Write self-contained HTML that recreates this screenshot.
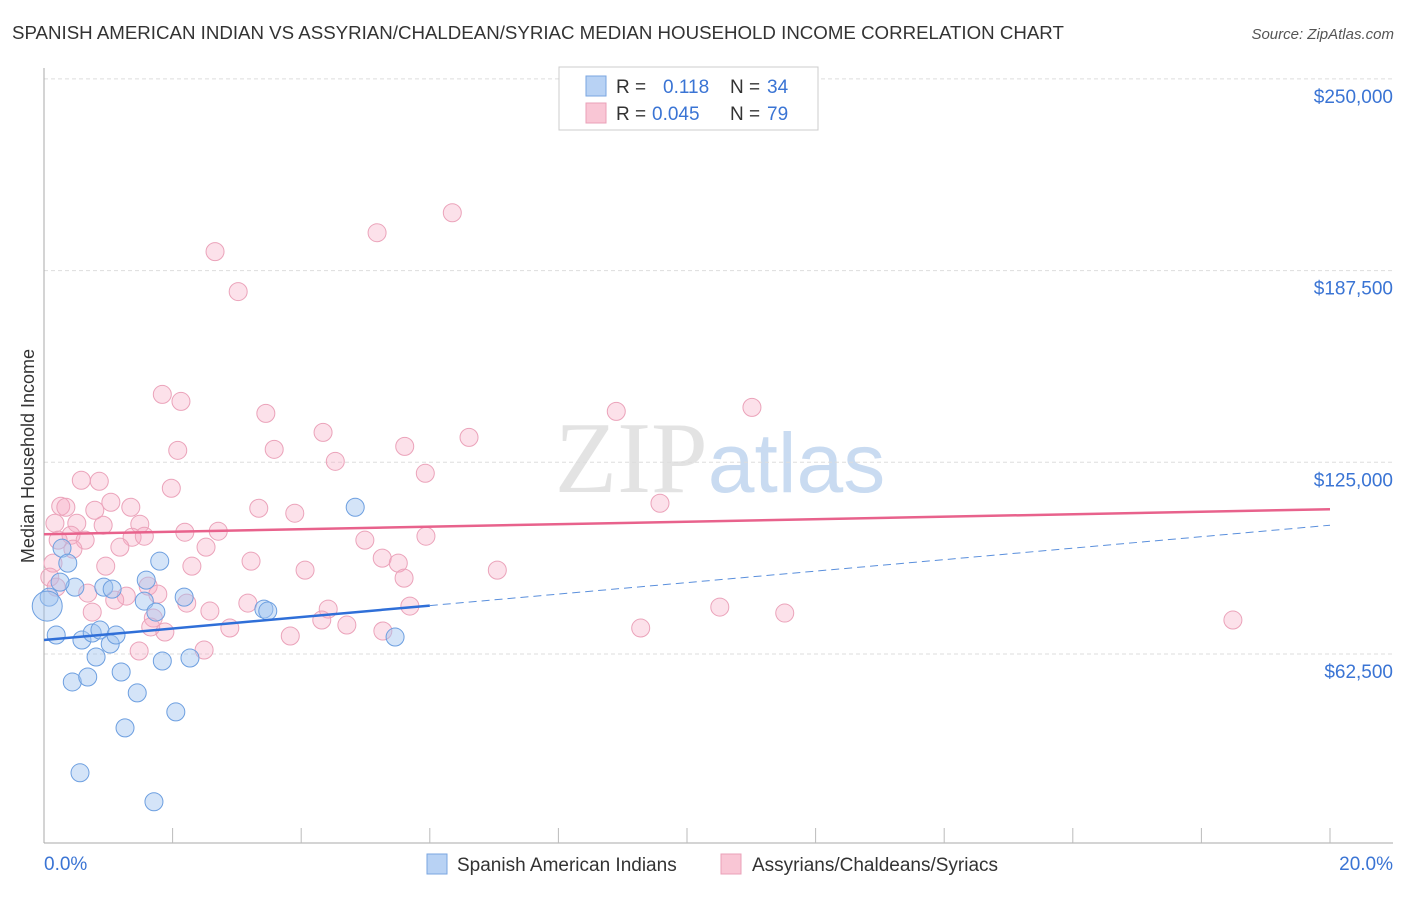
<!DOCTYPE html>
<html><head><meta charset="utf-8"><style>
body{margin:0;background:#fff;font-family:"Liberation Sans",sans-serif;}
</style></head><body>
<svg id="chart" width="1406" height="892" xmlns="http://www.w3.org/2000/svg" font-family="Liberation Sans, sans-serif">
<text x="12" y="39" font-size="18.7" fill="#333">SPANISH AMERICAN INDIAN VS ASSYRIAN/CHALDEAN/SYRIAC MEDIAN HOUSEHOLD INCOME CORRELATION CHART</text>
<text x="1394" y="39" font-size="15" fill="#555" text-anchor="end" font-style="italic">Source: ZipAtlas.com</text>
<text x="720" y="492" font-size="102" text-anchor="middle" font-family="Liberation Serif, serif" fill="#ddd" opacity="0.8">ZIP<tspan fill="#bcd3ee" font-family="Liberation Sans, sans-serif" font-size="84">atlas</tspan></text>
<g id="grid"></g><g id="axes"></g><g id="marks"></g>
<text transform="translate(34,456) rotate(-90)" font-size="18" fill="#333" text-anchor="middle">Median Household Income</text>
<g>
<rect x="559" y="67" width="259" height="63" fill="#fff" stroke="#ccc"/>
<rect x="586" y="76" width="20" height="20" fill="#b8d2f4" stroke="#7aa6e0"/>
<rect x="586" y="103" width="20" height="20" fill="#f9c6d5" stroke="#eaa0b8"/>
<text x="616" y="93" font-size="19" fill="#333">R = </text><text x="663" y="93" font-size="19" fill="#3a74d4">0.118</text>
<text x="730" y="93" font-size="19" fill="#333">N = </text><text x="767" y="93" font-size="19" fill="#3a74d4">34</text>
<text x="616" y="120" font-size="19" fill="#333">R = </text><text x="652" y="120" font-size="19" fill="#3a74d4">0.045</text>
<text x="730" y="120" font-size="19" fill="#333">N = </text><text x="767" y="120" font-size="19" fill="#3a74d4">79</text>
</g>
<g>
<rect x="427" y="854" width="20" height="20" fill="#b8d2f4" stroke="#7aa6e0"/>
<text x="457" y="871" font-size="19" fill="#333">Spanish American Indians</text>
<rect x="721" y="854" width="20" height="20" fill="#f9c6d5" stroke="#eaa0b8"/>
<text x="752" y="871" font-size="19" fill="#333">Assyrians/Chaldeans/Syriacs</text>
</g>
</svg>
<script>
const yTicks=[62500,125000,187500,250000];
const yTickLabels=["$62,500","$125,000","$187,500","$250,000"];
const xEndLabels=["0.0%","20.0%"];
const blueX=[0.28,0.37,0.19,0.59,0.81,0.75,0.87,1.03,1.12,0.48,0.93,1.06,0.08,0.05,1.80,1.59,1.56,1.74,2.18,3.42,3.48,4.84,5.46,0.44,0.68,1.20,1.45,1.84,2.27,2.05,1.26,0.56,1.71,0.25];
const blueY=[97000,92120,68680,67060,61520,69340,70310,65760,68680,84310,84310,83660,81050,78120,92770,86590,79750,76170,81050,77150,76500,110350,68030,53390,55010,56640,49810,60220,61200,43620,38410,23770,14330,85940];
const pinkX=[6.35,5.18,2.66,3.02,1.84,2.13,3.45,8.90,11.01,4.34,6.61,5.61,3.58,2.08,4.53,5.93,0.58,0.86,1.98,0.26,0.34,1.04,1.35,0.79,3.34,3.90,9.58,0.17,0.51,0.92,1.49,2.19,2.71,0.42,1.37,1.56,0.22,0.64,0.45,1.18,2.52,4.99,5.94,3.22,5.26,5.51,2.30,0.96,0.14,4.06,7.05,5.60,1.62,0.09,0.68,1.28,1.77,1.10,2.22,3.17,5.69,4.42,10.51,11.52,0.75,2.58,1.70,4.32,4.71,1.66,2.89,1.88,9.28,18.49,5.27,3.83,1.48,2.49,0.19];
const pinkY=[206370,199860,193680,180660,147130,144850,140950,141600,142900,134760,133130,130200,129230,128900,125320,121420,119140,118810,116530,110670,110350,111980,110350,109370,110020,108400,111650,105140,105140,104490,104820,102210,102540,101230,100580,100910,99610,99610,96680,97330,97330,99610,100910,92770,93750,92120,91140,91140,92120,89840,89840,87240,84630,87560,82360,81380,82030,80080,79100,79100,78120,77150,77800,75850,76170,76500,74220,73570,71940,71290,70960,69660,70960,73570,69990,68360,63480,63800,84310];
const blueTrend=[67060,104490];
const pinkTrend=[101560,109700];
const blueSolidEnd=6;
const NS="http://www.w3.org/2000/svg";
const X=p=>44+p*64.3;
const Y=v=>654-(v-62500)/62500*191.7;
function mk(t,a,parent){const e=document.createElementNS(NS,t);for(const k in a)e.setAttribute(k,a[k]);document.getElementById(parent).appendChild(e);return e;}
yTicks.forEach((v,i)=>{
  const g=mk('line',{x1:44,x2:1393,y1:Y(v),y2:Y(v),stroke:'#ddd','stroke-dasharray':'4,3'},'grid');
  
  
  const t=mk('text',{x:1393,y:Y(v)+24,'font-size':19,fill:'#3a74d4','text-anchor':'end'},'axes');
  t.textContent=yTickLabels[i];
  
  
});
const ya=mk('line',{x1:44,x2:44,y1:68,y2:843,stroke:'#aaa'},'axes');


const xa=mk('line',{x1:44,x2:1393,y1:843,y2:843,stroke:'#aaa'},'axes');


for(let p=2;p<=20;p+=2){
  const tk=mk('line',{x1:X(p),x2:X(p),y1:828,y2:843,stroke:'#bbb'},'axes');
  
  
}
[0,20].forEach((p,i)=>{
  const t=mk('text',{x:i?1393:44,y:870,'font-size':19,fill:'#3a74d4','text-anchor':i?'end':'start'},'axes');
  t.textContent=xEndLabels[i];
  
  
});
pinkX.forEach((x,i)=>{
  const c=mk('circle',{cx:X(x),cy:Y(pinkY[i]),r:9,fill:'rgba(246,170,195,0.35)',stroke:'#eba3ba','stroke-width':1},'marks');
  
  
});
blueX.forEach((x,i)=>{
  const c=mk('circle',{cx:X(x),cy:Y(blueY[i]),r:i===13?15:9,fill:'rgba(160,196,240,0.45)',stroke:'#6d9fe0','stroke-width':1},'marks');
  
  
});
const bAt=p=>blueTrend[0]+(blueTrend[1]-blueTrend[0])*p/20;
const pl=mk('line',{x1:X(0),y1:Y(pinkTrend[0]),x2:X(20),y2:Y(pinkTrend[1]),stroke:'#e8628c','stroke-width':2.5},'marks');


const bl=mk('line',{x1:X(0),y1:Y(bAt(0)),x2:X(blueSolidEnd),y2:Y(bAt(blueSolidEnd)),stroke:'#2f6fd8','stroke-width':2.5},'marks');


const bd=mk('line',{x1:X(blueSolidEnd),y1:Y(bAt(blueSolidEnd)),x2:X(20),y2:Y(bAt(20)),stroke:'#5a8fdc','stroke-width':1,'stroke-dasharray':'8,5'},'marks');


</script>
</body></html>
